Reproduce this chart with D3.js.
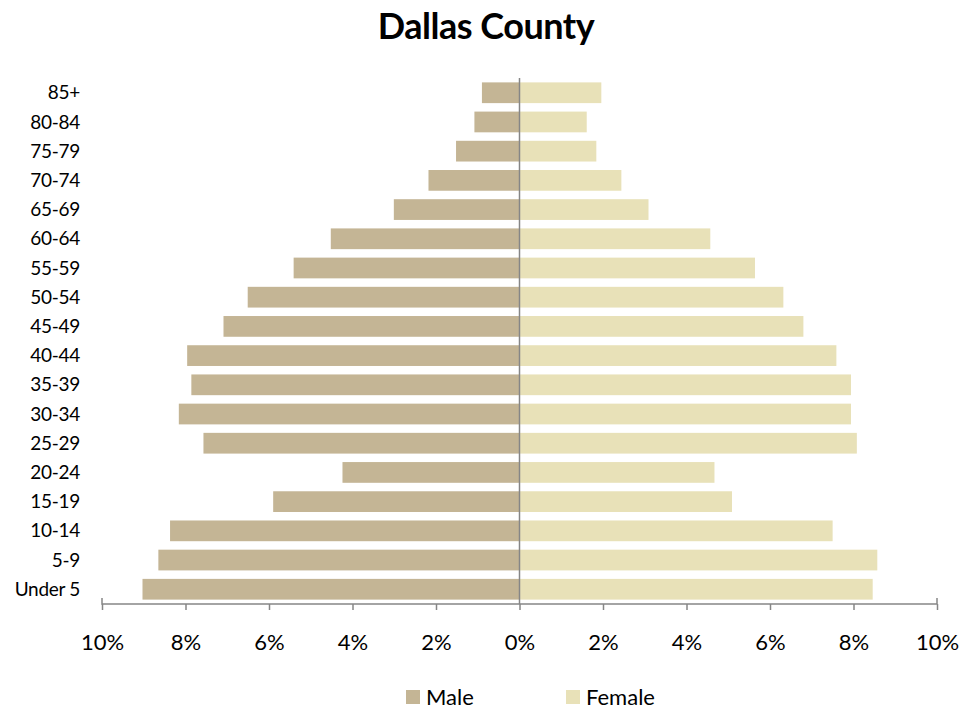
<!DOCTYPE html>
<html>
<head>
<meta charset="utf-8">
<script src="https://cdn.jsdelivr.net/npm/d3@7"></script>
<style>
  body { margin: 0; background: #fff; }
  text { font-family: Lato, "Open Sans", "Liberation Sans", sans-serif; fill: #000; }
</style>
</head>
<body>
<div class="chart"></div>
<script>

var ageGroups = ["85+", "80-84", "75-79", "70-74", "65-69", "60-64", "55-59", "50-54", "45-49",
                 "40-44", "35-39", "30-34", "25-29", "20-24", "15-19", "10-14", "5-9", "Under 5"];

// percent of population
var male   = [0.90, 1.08, 1.52, 2.18, 3.01, 4.52, 5.41, 6.51, 7.09,
              7.96, 7.86, 8.16, 7.57, 4.24, 5.90, 8.37, 8.65, 9.03];
var female = [1.96, 1.61, 1.84, 2.44, 3.09, 4.57, 5.64, 6.32, 6.80,
              7.59, 7.94, 7.94, 8.08, 4.67, 5.09, 7.50, 8.57, 8.46];

var tickValues = [-10, -8, -6, -4, -2, 0, 2, 4, 6, 8, 10];
var seriesNames = ["Male", "Female"];
var colors = ["#c4b595", "#e8e1b8"];

var width = 979, height = 713;
var margin = {top: 78, right: 42, bottom: 109, left: 102};

var svg = d3.select(".chart").append("svg")
    .attr("width", width)
    .attr("height", height);

svg.append("text")
    .attr("x", 486)
    .attr("y", 39)
    .attr("text-anchor", "middle")
    .style("font-size", "36px")
    .style("font-weight", "bold")
    .style("letter-spacing", "-0.5px")
    .text("Dallas County");

var x = d3.scaleLinear()
    .domain([-10, 10])
    .range([margin.left, width - margin.right]);

var y = d3.scaleBand()
    .domain(ageGroups)
    .range([margin.top, height - margin.bottom])
    .paddingInner(0.29)
    .paddingOuter(0.15);

var g = svg.append("g");

g.selectAll("rect.male")
    .data(male)
  .enter().append("rect")
    .attr("class", "male")
    .attr("x", function(d) { return x(-d); })
    .attr("y", function(d, i) { return y(ageGroups[i]); })
    .attr("width", function(d) { return x(0) - x(-d); })
    .attr("height", y.bandwidth())
    .attr("fill", colors[0]);

g.selectAll("rect.female")
    .data(female)
  .enter().append("rect")
    .attr("class", "female")
    .attr("x", x(0))
    .attr("y", function(d, i) { return y(ageGroups[i]); })
    .attr("width", function(d) { return x(d) - x(0); })
    .attr("height", y.bandwidth())
    .attr("fill", colors[1]);

// centre line
svg.append("line")
    .attr("x1", x(0)).attr("x2", x(0))
    .attr("y1", margin.top).attr("y2", height - margin.bottom)
    .attr("stroke", "#868686")
    .attr("stroke-width", 1.5);

// category labels
svg.selectAll("text.cat")
    .data(ageGroups)
  .enter().append("text")
    .attr("class", "cat")
    .attr("x", 80)
    .attr("y", function(d) { return y(d) + y.bandwidth() / 2; })
    .attr("dy", "0.35em")
    .attr("text-anchor", "end")
    .style("font-size", "19px")
    .style("letter-spacing", "-0.3px")
    .text(function(d) { return d; });

// x axis
var xAxis = d3.axisBottom(x)
    .tickValues(tickValues)
    .tickSize(-6)
    .tickPadding(30)
    .tickFormat(function(d) { return Math.abs(d) + "%"; });

var ax = svg.append("g")
    .attr("transform", "translate(0," + (height - margin.bottom) + ")")
    .call(xAxis);

ax.select(".domain").attr("stroke", "#868686").attr("stroke-width", 1.5)
    .attr("d", "M" + x(-10) + ",-6V0H" + x(10) + "V-6");
ax.selectAll(".tick line").attr("stroke", "#868686").attr("stroke-width", 1.5)
    .attr("y1", 0).attr("y2", 6);
ax.selectAll(".tick text")
    .style("font-size", "22px")
    .style("font-family", "Lato, 'Open Sans', 'Liberation Sans', sans-serif")
    .attr("fill", "#000");

// legend
var legendX = [406, 566];
var legend = svg.selectAll("g.legend")
    .data(seriesNames)
  .enter().append("g")
    .attr("class", "legend")
    .attr("transform", function(d, i) { return "translate(" + legendX[i] + ",690)"; });

legend.append("rect")
    .attr("width", 14)
    .attr("height", 14)
    .attr("fill", function(d, i) { return colors[i]; });

legend.append("text")
    .attr("x", 20)
    .attr("y", 7)
    .attr("dy", "0.35em")
    .style("font-size", "22px")
    .text(function(d) { return d; });

</script>
</body>
</html>
